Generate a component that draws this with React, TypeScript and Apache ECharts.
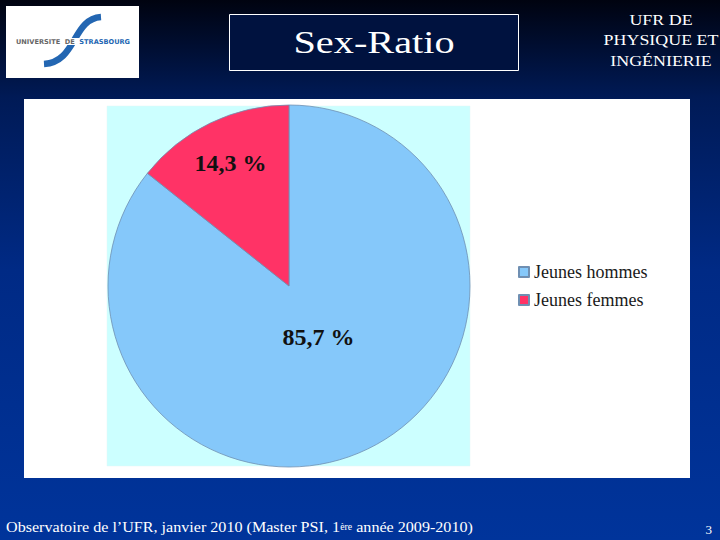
import React, { useEffect, useRef } from "react";
import * as echarts from "echarts";

const categories = ["Jeunes hommes", "Jeunes femmes"];
const values = [85.7, 14.3];
const colors = ["#85C8FA", "#FF3366"];
const titleText = "Sex-Ratio";
const headerLines = ["UFR DE", "PHYSIQUE ET", "INGÉNIERIE"];
const footerMain = "Observatoire de l’UFR, janvier 2010 (Master PSI, 1";
const footerSup = "ère";
const footerEnd = " année 2009-2010)";
const pageNumber = "3";

const SERIF = "'Liberation Serif', 'Times New Roman', serif";

export default function App() {
  const ref = useRef<HTMLDivElement>(null);
  useEffect(() => {
    if (!ref.current) return;
    const chart = echarts.init(ref.current, null, { renderer: "svg" });
    const labelOffsets = [
      { dx: -11, dy: -33 },
      { dx: -18, dy: -39 },
    ];
    chart.setOption({
      animation: false,
      backgroundColor: new echarts.graphic.LinearGradient(0, 0, 0, 1, [
        { offset: 0, color: "#000310" },
        { offset: 0.18, color: "#001a56" },
        { offset: 0.5, color: "#002a85" },
        { offset: 1, color: "#00349b" },
      ]),
      legend: {
        orient: "vertical",
        left: 513,
        top: 258,
        itemWidth: 10,
        itemHeight: 10,
        itemGap: 10,
        icon: "rect",
        data: categories,
        textStyle: { fontFamily: SERIF, fontSize: 18, color: "#1a1a1a" },
      },
      graphic: [
        // white panel
        { type: "rect", z: 0, shape: { x: 24, y: 99, width: 666, height: 379 }, style: { fill: "#ffffff" } },
        // plot area
        { type: "rect", z: 0, shape: { x: 107, y: 106, width: 363, height: 360 }, style: { fill: "#CCFFFF", stroke: "#e0f4f4", lineWidth: 0.5 } },
        // logo box
        { type: "rect", shape: { x: 6, y: 6, width: 133, height: 72 }, style: { fill: "#ffffff" } },
        {
          type: "bezierCurve",
          shape: { x1: 101, y1: 17, cpx1: 72, cpy1: 19, cpx2: 77, cpy2: 62, x2: 44, y2: 64 },
          style: { stroke: "#2366b2", lineWidth: 6.5, fill: null },
        },
        { type: "rect", shape: { x: 60, y: 38, width: 30, height: 7 }, style: { fill: "#ffffff" } },
        {
          type: "text",
          style: {
            x: 73, y: 41.5, align: "center", verticalAlign: "middle",
            text: "{g|UNIVERSITE  DE  }{b|STRASBOURG}",
            rich: {
              g: { fontFamily: "'DejaVu Sans', sans-serif", fontSize: 6.6, fontWeight: "bold", fill: "#666666" },
              b: { fontFamily: "'DejaVu Sans', sans-serif", fontSize: 6.6, fontWeight: "bold", fill: "#2366b2" },
            },
          },
        },
        // title box
        { type: "rect", shape: { x: 229.5, y: 14.5, width: 289, height: 56 }, style: { fill: "#00123f", stroke: "#ffffff", lineWidth: 1 } },
        {
          type: "text", x: 374, y: 43, scaleX: 1.3,
          style: { x: 0, y: 0, align: "center", verticalAlign: "middle", text: titleText, fontFamily: SERIF, fontSize: 31, fill: "#ffffff" },
        },
        ...headerLines.map((t, i) => ({
          type: "text", x: 661, y: 20 + i * 20.5, scaleX: 1.28,
          style: { x: 0, y: 0, align: "center", verticalAlign: "middle", text: t, fontFamily: SERIF, fontSize: 14, fill: "#ffffff" },
        })),
        {
          type: "text", x: 6, y: 527, scaleX: 1.033,
          style: {
            x: 0, y: 0, align: "left", verticalAlign: "middle",
            text: `{m|${footerMain}}{s|${footerSup}}{m|${footerEnd}}`,
            rich: {
              m: { fontFamily: SERIF, fontSize: 15.6, fill: "#ffffff", height: 17 },
              s: { fontFamily: SERIF, fontSize: 9.5, fill: "#ffffff", verticalAlign: "top", height: 17 },
            },
          },
        },
        {
          type: "text",
          style: { x: 712, y: 529, align: "right", verticalAlign: "middle", text: pageNumber, fontFamily: SERIF, fontSize: 13, fill: "#ffffff" },
        },
      ],
      series: [
        {
          type: "pie",
          center: [289, 286],
          radius: 181,
          startAngle: 90,
          clockwise: true,
          z: 5,
          data: categories.map((name, i) => ({
            name,
            value: values[i],
            itemStyle: { color: colors[i] },
          })),
          itemStyle: { borderColor: "#6f8fb2", borderWidth: 0.8 },
          label: {
            show: true,
            position: "inside",
            formatter: (p: any) => String(p.value).replace(".", ",") + " %",
            fontFamily: SERIF,
            fontSize: 24,
            fontWeight: "bold",
            color: "#111111",
          },
          labelLayout: (p: any) => labelOffsets[p.dataIndex],
          labelLine: { show: false },
          emphasis: { disabled: true },
          silent: true,
        },
      ],
    });
    return () => chart.dispose();
  }, []);
  return <div ref={ref} style={{ position: "fixed", left: 0, top: 0, width: 720, height: 540 }} />;
}
